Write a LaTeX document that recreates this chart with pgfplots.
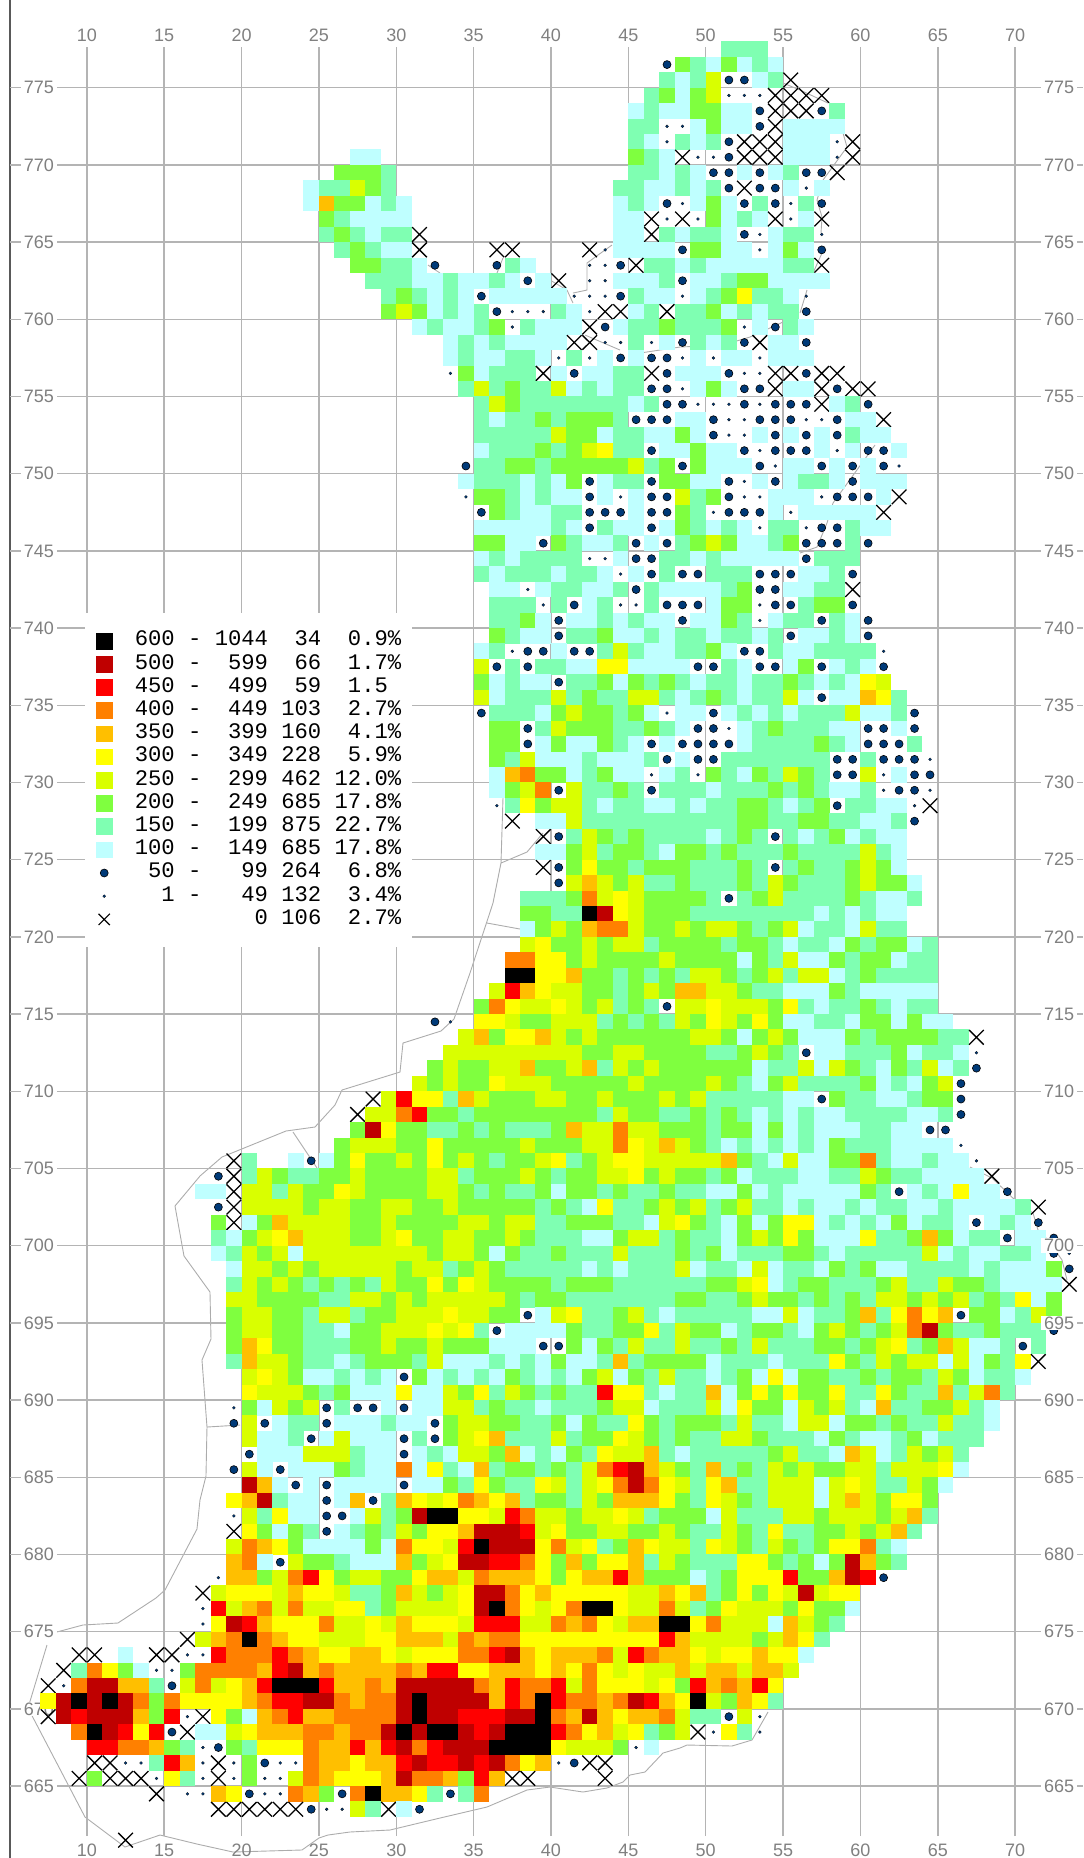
\documentclass[border=0pt]{standalone}
\usepackage{pgfplots}
\usepackage{fontspec}
\setmainfont{Liberation Sans}
\setmonofont{Liberation Mono}
\pgfplotsset{compat=1.18}
\definecolor{c1}{HTML}{BFFFFF}\definecolor{c2}{HTML}{7FFFB2}\definecolor{c3}{HTML}{7FFF3F}
\definecolor{c4}{HTML}{D9FF00}\definecolor{c5}{HTML}{FFFF00}\definecolor{c6}{HTML}{FFBF00}
\definecolor{c7}{HTML}{FF8000}\definecolor{c8}{HTML}{FF0000}\definecolor{c9}{HTML}{BF0000}
\definecolor{c10}{HTML}{000000}\definecolor{dotc}{HTML}{003A78}\definecolor{gridc}{HTML}{B4B4B4}
\pgfdeclareplotmark{cell}{\pgfpathrectangle{\pgfpoint{-0.04pt}{-0.04pt}}{\pgfpoint{\runlen*7.735pt+0.08pt}{7.8pt}}\pgfusepathqfill}
\pgfdeclareplotmark{bigdot}{\pgfsetfillcolor{dotc}\pgfsetstrokecolor{black}\pgfsetlinewidth{0.3pt}\pgfpathcircle{\pgfpoint{3.867pt}{3.86pt}}{2pt}\pgfusepathqfillstroke}
\pgfdeclareplotmark{smalldot}{\pgfsetfillcolor{dotc}\pgfsetstrokecolor{black}\pgfsetlinewidth{0.1pt}\pgfpathcircle{\pgfpoint{3.867pt}{3.86pt}}{0.75pt}\pgfusepathqfillstroke}
\pgfdeclareplotmark{nilx}{\pgfsetstrokecolor{black}\pgfsetlinewidth{0.65pt}\pgfpathmoveto{\pgfpoint{0.2pt}{0.2pt}}\pgfpathlineto{\pgfpoint{7.53pt}{7.52pt}}\pgfpathmoveto{\pgfpoint{0.2pt}{7.52pt}}\pgfpathlineto{\pgfpoint{7.53pt}{0.2pt}}\pgfusepathqstroke}
\pgfplotsset{base/.style={scale only axis, width=536.5pt, height=894.5pt,
 xmin=5.03, xmax=74.39, ymin=661.77, ymax=777.64, clip=false,
 xtick={10,15,...,70}, ytick={665,670,...,775},
 axis line style={draw=none}, tick style={draw=none}, major tick length=0pt,
 /pgf/number format/assume math mode=true,
 tick label style={font=\fontsize{9}{10}\selectfont, text=gray}}}
\begin{document}
\begin{tikzpicture}
\useasboundingbox (-5pt,-11pt) rectangle (536.5pt,918pt);
\draw[color=black!65, line width=0.7pt] (0pt,-11pt)--(0pt,918pt);
\begin{axis}[base, axis on top, xticklabel pos=upper, yticklabel pos=left,
 grid=major, grid style={draw=gridc, line width=0.75pt},
 xticklabel style={anchor=center, yshift=6pt},
 yticklabel style={anchor=center, xshift=14.5pt, fill=white, inner xsep=1.5pt, inner ysep=0.5pt},
 legend cell align=left,
 legend image code/.code={\draw[#1] plot coordinates {(0.17cm,0cm)};},
 legend style={at={(axis cs:9.88,740.98)}, anchor=north west, draw=none, fill=white,
  font=\fontsize{11.1}{11.6}\selectfont\ttfamily, inner xsep=5.4pt, inner ysep=8pt, row sep=0pt,
  /tikz/column 1/.style={column sep=11.3pt},
  nodes={inner sep=0pt, text height=8.2pt, text depth=3.4pt}}]
\addplot[forget plot, color=gray!65, line width=0.45pt, no markers, unbounded coords=jump]
 table[x expr=10+(\thisrow{a}-86.9)/15.47, y expr=775-(\thisrow{b}-87.7)/15.44]{
a b
503 798
501 863
493 903
470 973
454 1019
441 1031
403 1043
400 1072
342 1090
335 1105
315 1127
286 1131
222 1157
200 1176
175 1206
184 1256
210 1292
211 1339
202 1360
207 1427
206 1476
200 1500
197 1529
165 1590
156 1598
118 1623
83 1625
53 1633
nan nan
47 1645
28 1708
85 1817
125 1847
160 1835
197 1844
233 1852
302 1850
319 1838
328 1835
350 1832
390 1830
440 1818
487 1807
527 1790
550 1787
583 1792
607 1788
623 1782
630 1775
645 1772
663 1753
680 1748
687 1745
732 1746
752 1740
768 1712
nan nan
501 863
527 852
543 833
nan nan
487 923
520 929
nan nan
293 1132
317 1168
nan nan
207 1427
240 1425
nan nan
970 1167
992 1178
1015 1200
1033 1213
1038 1230
1048 1240
1062 1260
1067 1280
nan nan
875 445
833 503
827 523
817 547
800 553
nan nan
843 133
847 147
823 180
817 200
822 217
821 233
nan nan
822 253
813 273
nan nan
807 290
800 313
nan nan
783 322
750 337
723 345
680 347
640 353
nan nan
550 280
567 290
573 303
nan nan
573 293
587 290
587 263
598 255
612 245
nan nan
585 335
620 350
nan nan
428 265
440 273
nan nan
503 258
497 273
nan nan
783 83
800 90
828 103
};
\addplot[forget plot, scatter, only marks, point meta=explicit symbolic,
 visualization depends on={value \thisrow{n} \as \runlen},
 scatter/classes={1={mark=cell,color=c1},2={mark=cell,color=c2},3={mark=cell,color=c3},4={mark=cell,color=c4},5={mark=cell,color=c5},6={mark=cell,color=c6},7={mark=cell,color=c7},8={mark=cell,color=c8},9={mark=cell,color=c9},10={mark=cell,color=c10},11={mark=bigdot},12={mark=smalldot},13={mark=nilx}}]
 table[x=x,y=y,meta=c]{
y x n c
777 51 3 2
776 47 1 11
776 48 1 3
776 49 1 2
776 50 1 1
776 51 1 3
776 52 1 1
776 53 1 2
776 54 1 1
775 47 1 2
775 48 1 1
775 49 1 2
775 50 1 4
775 51 1 11
775 52 1 11
775 53 1 1
775 54 1 2
775 55 1 13
774 46 1 2
774 47 1 3
774 48 1 1
774 49 1 3
774 50 1 4
774 51 1 12
774 52 1 12
774 53 1 12
774 54 1 13
774 55 1 13
774 56 1 13
774 57 1 13
773 45 1 1
773 46 1 2
773 47 2 1
773 49 2 3
773 51 2 1
773 53 1 11
773 54 1 13
773 55 1 13
773 56 1 13
773 57 1 11
773 58 1 2
772 45 2 2
772 47 1 12
772 48 1 12
772 49 1 1
772 50 1 3
772 51 2 1
772 53 1 11
772 54 1 13
772 55 4 1
771 45 1 2
771 46 1 1
771 47 1 12
771 48 1 2
771 49 1 1
771 50 1 2
771 51 1 11
771 52 1 13
771 53 1 13
771 54 1 13
771 55 3 1
771 58 1 12
771 59 1 13
770 27 2 1
770 45 1 3
770 46 1 2
770 47 1 1
770 48 1 13
770 49 1 12
770 50 1 12
770 51 1 11
770 52 1 13
770 53 1 13
770 54 1 13
770 55 3 1
770 58 1 12
770 59 1 13
769 26 3 3
769 29 1 2
769 45 2 2
769 47 1 1
769 48 1 2
769 49 1 1
769 50 1 11
769 51 1 11
769 52 1 1
769 53 1 11
769 54 1 1
769 55 1 2
769 56 1 11
769 57 1 11
769 58 1 13
768 24 1 1
768 25 2 2
768 27 1 4
768 28 1 3
768 29 1 2
768 44 2 2
768 46 2 1
768 48 1 2
768 49 1 1
768 50 1 2
768 51 1 11
768 52 1 13
768 53 1 11
768 54 1 11
768 55 1 1
768 56 1 12
768 57 1 1
767 24 1 1
767 25 1 6
767 26 2 3
767 28 1 1
767 29 1 2
767 30 1 1
767 44 1 1
767 45 1 2
767 46 1 1
767 47 1 11
767 48 1 12
767 49 1 1
767 50 1 3
767 51 1 1
767 52 1 11
767 53 1 2
767 54 1 11
767 55 1 12
767 56 1 2
767 57 1 11
766 25 1 3
766 26 1 2
766 27 4 1
766 44 2 1
766 46 1 13
766 47 1 12
766 48 1 13
766 49 1 12
766 50 1 3
766 51 1 1
766 52 1 2
766 53 1 1
766 54 1 13
766 55 1 12
766 56 1 1
766 57 1 13
765 25 1 2
765 26 1 3
765 27 1 2
765 28 1 1
765 29 2 2
765 31 1 13
765 44 2 1
765 46 1 13
765 47 1 2
765 48 1 1
765 49 2 2
765 51 1 1
765 52 1 11
765 53 1 12
765 54 1 1
765 55 2 2
765 57 1 12
764 26 1 2
764 27 1 3
764 28 1 2
764 29 2 1
764 31 1 13
764 36 1 13
764 37 1 13
764 42 1 13
764 43 1 12
764 44 4 1
764 48 1 11
764 49 2 3
764 51 2 1
764 53 1 12
764 54 1 1
764 55 1 3
764 56 1 1
764 57 1 11
763 27 2 3
763 29 2 2
763 31 1 1
763 32 1 11
763 36 1 11
763 37 1 2
763 38 1 1
763 42 1 12
763 43 1 12
763 44 1 11
763 45 1 13
763 46 2 2
763 48 1 1
763 49 1 2
763 50 5 1
763 55 2 2
763 57 1 13
762 28 3 2
762 31 2 1
762 33 1 2
762 34 2 1
762 36 1 2
762 37 1 1
762 38 1 11
762 39 1 1
762 40 1 13
762 42 1 12
762 43 1 12
762 44 3 1
762 47 1 2
762 48 1 11
762 49 2 1
762 51 1 2
762 52 2 3
762 54 4 1
761 29 1 2
761 30 1 3
761 31 1 2
761 32 1 1
761 33 1 2
761 34 1 1
761 35 1 11
761 36 5 1
761 41 1 12
761 42 1 12
761 43 1 12
761 44 1 11
761 45 1 2
761 46 2 1
761 48 1 12
761 49 1 1
761 50 1 2
761 51 1 3
761 52 1 5
761 53 2 2
761 55 1 1
761 56 1 12
760 29 1 3
760 30 1 4
760 31 1 3
760 32 1 1
760 33 1 2
760 34 1 1
760 35 1 2
760 36 1 11
760 37 1 12
760 38 1 12
760 39 1 12
760 40 1 2
760 41 1 1
760 42 1 12
760 43 1 13
760 44 1 13
760 45 1 1
760 46 1 2
760 47 1 13
760 48 2 2
760 50 1 3
760 51 1 1
760 52 1 2
760 53 1 1
760 54 2 2
760 56 1 11
759 31 1 1
759 32 1 2
759 33 2 1
759 35 1 2
759 36 1 3
759 37 1 12
759 38 1 2
759 39 3 1
759 42 1 13
759 43 1 11
759 44 1 1
759 45 2 2
759 47 1 3
759 48 3 2
759 51 1 3
759 52 1 12
759 53 1 1
759 54 1 11
759 55 1 2
759 56 1 1
758 33 1 1
758 34 1 2
758 35 1 1
758 36 1 2
758 37 4 1
758 41 1 13
758 42 1 13
758 43 1 12
758 44 1 12
758 45 1 2
758 46 1 12
758 47 1 1
758 48 1 11
758 49 1 2
758 50 1 1
758 51 1 2
758 52 1 11
758 53 1 13
758 54 2 1
758 56 1 11
757 33 1 1
757 34 1 2
757 35 2 1
757 37 2 2
757 39 1 1
757 40 1 12
757 41 1 2
757 42 1 12
757 43 1 1
757 44 1 11
757 45 1 1
757 46 1 11
757 47 1 11
757 48 1 12
757 49 1 1
757 50 1 12
757 51 2 1
757 53 1 12
757 54 3 1
756 33 1 12
756 34 1 3
756 35 1 1
756 36 3 2
756 39 1 13
756 40 1 1
756 41 1 11
756 42 2 1
756 44 2 2
756 46 1 13
756 47 1 11
756 48 3 1
756 51 1 11
756 52 1 12
756 53 1 12
756 54 1 13
756 55 1 13
756 56 1 11
756 57 1 13
756 58 1 13
755 34 1 2
755 35 1 4
755 36 1 2
755 37 1 3
755 38 2 2
755 40 1 4
755 41 1 1
755 42 1 2
755 43 1 1
755 44 2 2
755 46 1 11
755 47 1 11
755 48 1 12
755 49 1 1
755 50 1 3
755 51 1 1
755 52 1 11
755 53 1 11
755 54 1 13
755 55 2 1
755 57 1 13
755 58 1 11
755 59 1 13
755 60 1 13
754 35 1 2
754 36 1 4
754 37 1 3
754 38 7 2
754 45 1 1
754 46 1 2
754 47 1 11
754 48 1 11
754 49 1 12
754 50 1 12
754 51 1 12
754 52 1 11
754 53 1 12
754 54 1 11
754 55 1 11
754 56 1 11
754 57 1 13
754 58 1 1
754 59 1 2
754 60 1 11
753 35 1 2
753 36 1 1
753 37 2 2
753 39 1 3
753 40 1 2
753 41 3 3
753 44 1 2
753 45 1 11
753 46 1 11
753 47 1 11
753 48 2 1
753 50 1 11
753 51 1 12
753 52 1 12
753 53 1 11
753 54 1 11
753 55 1 11
753 56 1 12
753 57 1 12
753 58 1 11
753 59 2 1
753 61 1 13
752 35 5 2
752 40 1 4
752 41 2 3
752 43 1 1
752 44 2 2
752 46 2 1
752 48 1 3
752 49 1 1
752 50 1 11
752 51 1 12
752 52 1 12
752 53 1 1
752 54 1 11
752 55 1 1
752 56 1 11
752 57 1 1
752 58 1 11
752 59 1 2
752 60 2 1
751 35 1 1
751 36 3 2
751 39 1 3
751 40 1 2
751 41 1 3
751 42 1 4
751 43 1 5
751 44 2 2
751 46 1 11
751 47 2 1
751 49 1 3
751 50 2 1
751 52 1 11
751 53 1 12
751 54 1 11
751 55 1 11
751 56 1 11
751 57 1 1
751 58 1 12
751 59 1 1
751 60 1 11
751 61 1 11
751 62 1 1
750 34 1 11
750 35 2 2
750 37 2 3
750 39 1 2
750 40 5 3
750 45 1 4
750 46 1 2
750 47 1 3
750 48 1 11
750 49 1 3
750 50 3 1
750 53 1 11
750 54 1 12
750 55 2 1
750 57 1 11
750 58 1 1
750 59 1 11
750 60 1 1
750 61 1 11
750 62 1 12
749 34 1 1
749 35 3 2
749 38 1 1
749 39 1 2
749 40 1 1
749 41 1 3
749 42 1 11
749 43 1 1
749 44 2 2
749 46 1 11
749 47 2 3
749 49 2 1
749 51 1 11
749 52 1 12
749 53 1 1
749 54 1 11
749 55 1 1
749 56 2 2
749 58 1 1
749 59 1 11
749 60 3 1
748 34 1 12
748 35 2 3
748 37 1 2
748 38 1 1
748 39 1 2
748 40 2 1
748 42 1 11
748 43 1 1
748 44 1 12
748 45 1 1
748 46 1 11
748 47 1 11
748 48 1 4
748 49 1 2
748 50 1 3
748 51 1 11
748 52 1 12
748 53 1 12
748 54 3 1
748 57 1 12
748 58 1 11
748 59 1 11
748 60 1 11
748 61 1 1
748 62 1 13
747 35 1 11
747 36 1 3
747 37 1 2
747 38 2 1
747 40 2 2
747 42 1 11
747 43 1 11
747 44 1 11
747 45 1 1
747 46 1 11
747 47 1 11
747 48 1 3
747 49 1 2
747 50 1 12
747 51 1 11
747 52 1 11
747 53 1 11
747 54 1 1
747 55 1 12
747 56 5 1
747 61 1 13
746 35 5 1
746 40 1 2
746 41 1 1
746 42 1 11
746 43 1 2
746 44 2 1
746 46 1 11
746 47 1 1
746 48 1 3
746 49 1 2
746 50 1 1
746 51 1 2
746 52 1 1
746 53 1 12
746 54 2 2
746 56 1 12
746 57 1 11
746 58 1 11
746 59 1 2
746 60 2 1
745 35 2 3
745 37 2 1
745 39 1 11
745 40 1 3
745 41 1 2
745 42 2 1
745 44 1 2
745 45 1 11
745 46 1 1
745 47 1 11
745 48 1 2
745 49 1 3
745 50 1 4
745 51 1 3
745 52 2 1
745 54 1 2
745 55 1 3
745 56 1 11
745 57 1 11
745 58 1 11
745 59 1 2
745 60 1 11
744 35 1 1
744 36 1 2
744 37 1 1
744 38 4 2
744 42 1 12
744 43 1 12
744 44 1 1
744 45 1 11
744 46 1 11
744 47 2 2
744 49 1 1
744 50 1 2
744 51 5 1
744 56 1 11
744 57 3 2
743 35 1 2
743 36 1 1
743 37 3 2
743 40 1 1
743 41 2 2
743 43 1 1
743 44 1 12
743 45 1 1
743 46 1 11
743 47 1 2
743 48 1 11
743 49 1 11
743 50 3 2
743 53 1 11
743 54 1 11
743 55 1 11
743 56 2 1
743 58 1 2
743 59 1 11
742 36 2 1
742 38 1 12
742 39 1 1
742 40 2 2
742 42 2 1
742 44 1 2
742 45 1 11
742 46 1 2
742 47 4 1
742 51 1 2
742 52 1 3
742 53 1 11
742 54 1 11
742 55 2 1
742 57 2 2
742 59 1 13
741 36 3 2
741 39 1 12
741 40 1 2
741 41 1 11
741 42 1 1
741 43 1 2
741 44 1 12
741 45 1 12
741 46 1 2
741 47 1 11
741 48 1 11
741 49 1 11
741 50 1 1
741 51 2 3
741 53 1 12
741 54 1 11
741 55 1 11
741 56 1 2
741 57 2 3
741 59 1 11
740 36 2 2
740 38 1 3
740 39 1 1
740 40 1 11
740 41 2 1
740 43 1 2
740 44 1 1
740 45 1 2
740 46 2 1
740 48 1 11
740 49 2 1
740 51 1 3
740 52 1 2
740 53 1 12
740 54 1 1
740 55 2 2
740 57 1 11
740 58 1 2
740 59 1 1
740 60 1 11
739 36 1 3
739 37 1 2
739 38 2 1
739 40 1 11
739 41 2 2
739 43 1 3
739 44 2 1
739 46 1 2
739 47 1 1
739 48 2 2
739 50 1 1
739 51 2 2
739 53 1 1
739 54 1 2
739 55 1 11
739 56 2 1
739 58 1 2
739 59 1 1
739 60 1 11
738 35 1 1
738 36 1 2
738 37 1 12
738 38 1 11
738 39 1 11
738 40 1 1
738 41 1 11
738 42 1 11
738 43 1 2
738 44 1 4
738 45 1 2
738 46 2 1
738 48 2 2
738 50 1 3
738 51 1 1
738 52 1 11
738 53 1 11
738 54 1 2
738 55 2 1
738 57 4 2
738 61 1 12
737 35 1 4
737 36 1 11
737 37 1 2
737 38 1 11
737 39 2 2
737 41 2 1
737 43 2 5
737 45 4 1
737 49 1 11
737 50 1 11
737 51 1 2
737 52 1 1
737 53 1 11
737 54 1 11
737 55 1 1
737 56 1 3
737 57 1 11
737 58 1 1
737 59 1 2
737 60 1 1
737 61 1 11
736 35 1 3
736 36 1 1
736 37 1 2
736 38 2 1
736 40 1 11
736 41 2 2
736 43 1 3
736 44 1 1
736 45 1 3
736 46 1 2
736 47 1 3
736 48 1 2
736 49 1 1
736 50 2 2
736 52 1 1
736 53 2 2
736 55 1 3
736 56 1 2
736 57 1 1
736 58 1 2
736 59 1 1
736 60 1 5
736 61 1 4
735 35 1 4
735 36 1 1
735 37 3 2
735 40 1 4
735 41 1 2
735 42 1 3
735 43 2 2
735 45 2 4
735 47 1 2
735 48 1 1
735 49 1 2
735 50 1 3
735 51 1 2
735 52 1 1
735 53 2 2
735 55 1 4
735 56 1 1
735 57 1 11
735 58 2 1
735 60 1 6
735 61 1 5
735 62 1 2
734 35 1 11
734 36 3 2
734 39 1 1
734 40 1 3
734 41 1 4
734 42 2 3
734 44 1 2
734 45 1 3
734 46 1 1
734 47 1 12
734 48 2 1
734 50 1 11
734 51 1 1
734 52 1 2
734 53 1 1
734 54 1 2
734 55 1 1
734 56 3 2
734 59 1 4
734 60 2 1
734 62 1 2
734 63 1 11
733 36 2 3
733 38 1 11
733 39 1 2
733 40 1 4
733 41 3 3
733 44 2 2
733 46 1 3
733 47 1 2
733 48 1 1
733 49 1 11
733 50 1 11
733 51 1 12
733 52 1 1
733 53 1 2
733 54 1 3
733 55 3 2
733 58 2 1
733 60 1 11
733 61 1 11
733 62 1 1
733 63 1 11
732 36 2 3
732 38 1 11
732 39 1 1
732 40 1 3
732 41 2 1
732 43 1 3
732 44 1 2
732 45 1 1
732 46 1 11
732 47 1 1
732 48 1 11
732 49 1 11
732 50 1 11
732 51 1 11
732 52 1 1
732 53 4 2
732 57 1 3
732 58 1 2
732 59 1 1
732 60 1 11
732 61 1 11
732 62 1 11
732 63 1 2
731 36 1 3
731 37 1 2
731 38 1 4
731 39 3 1
731 42 1 2
731 43 3 1
731 46 1 2
731 47 1 11
731 48 1 1
731 49 1 11
731 50 1 11
731 51 7 2
731 58 1 11
731 59 1 11
731 60 1 2
731 61 1 11
731 62 1 11
731 63 1 11
731 64 1 12
730 36 1 1
730 37 1 6
730 38 1 7
730 39 2 3
730 41 1 1
730 42 1 2
730 43 1 3
730 44 2 1
730 46 1 12
730 47 1 1
730 48 1 2
730 49 1 12
730 50 1 3
730 51 1 2
730 52 1 1
730 53 1 3
730 54 1 2
730 55 1 4
730 56 1 3
730 57 1 2
730 58 1 11
730 59 1 11
730 60 1 4
730 61 1 12
730 62 1 1
730 63 1 11
730 64 1 11
729 36 1 1
729 37 1 3
729 38 1 4
729 39 1 7
729 40 1 11
729 41 1 4
729 42 2 2
729 44 1 3
729 45 1 2
729 46 1 11
729 47 3 2
729 50 1 1
729 51 3 2
729 54 1 3
729 55 1 2
729 56 1 3
729 57 1 2
729 58 2 1
729 60 1 2
729 61 1 12
729 62 1 11
729 63 1 11
729 64 1 12
728 36 1 12
728 37 1 2
728 38 1 5
728 39 1 3
728 40 2 4
728 42 1 2
728 43 1 1
728 44 2 2
728 46 2 1
728 48 1 2
728 49 1 1
728 50 2 2
728 52 2 3
728 54 1 2
728 55 1 1
728 56 1 2
728 57 1 3
728 58 1 11
728 59 2 2
728 61 2 1
728 63 1 12
728 64 1 13
727 37 1 13
727 39 2 1
727 41 1 4
727 42 10 2
727 52 2 3
727 54 2 2
727 56 2 3
727 58 2 2
727 60 2 1
727 62 1 2
727 63 1 11
726 39 1 13
726 40 1 11
726 41 1 2
726 42 1 4
726 43 1 3
726 44 1 2
726 45 1 3
726 46 4 2
726 50 1 1
726 51 1 2
726 52 1 3
726 53 1 2
726 54 1 11
726 55 1 2
726 56 1 1
726 57 1 2
726 58 1 3
726 59 1 1
726 60 1 2
726 61 2 1
725 39 2 1
725 41 1 3
725 42 1 4
725 43 1 2
725 44 2 3
725 46 1 2
725 47 1 1
725 48 2 3
725 50 1 2
725 51 1 3
725 52 3 2
725 55 1 3
725 56 4 2
725 60 1 4
725 61 1 2
725 62 1 1
724 39 1 13
724 40 1 11
724 41 1 3
724 42 1 5
724 43 2 3
724 45 1 2
724 46 3 3
724 49 3 2
724 52 1 3
724 53 1 2
724 54 1 11
724 55 1 2
724 56 1 3
724 57 2 2
724 59 1 3
724 60 1 4
724 61 1 3
724 62 1 1
723 40 1 11
723 41 1 4
723 42 1 6
723 43 1 4
723 44 1 3
723 45 1 4
723 46 2 2
723 48 1 3
723 49 3 2
723 52 1 3
723 53 1 2
723 54 1 4
723 55 1 3
723 56 3 2
723 59 1 3
723 60 1 4
723 61 2 3
723 63 1 1
722 38 3 2
722 41 1 3
722 42 1 7
722 43 1 4
722 44 1 5
722 45 1 4
722 46 4 3
722 50 1 2
722 51 1 11
722 52 1 2
722 53 1 3
722 54 1 4
722 55 4 2
722 59 1 3
722 60 1 2
722 61 2 1
722 63 1 2
721 38 2 3
721 40 2 2
721 42 1 10
721 43 1 9
721 44 1 5
721 45 1 4
721 46 3 3
721 49 8 2
721 57 1 1
721 58 1 2
721 59 1 1
721 60 1 2
721 61 2 1
720 38 1 1
720 39 1 3
720 40 1 4
720 41 1 3
720 42 1 6
720 43 2 7
720 45 1 4
720 46 2 3
720 48 1 4
720 49 1 3
720 50 2 4
720 52 1 3
720 53 1 2
720 54 1 3
720 55 1 4
720 56 1 1
720 57 2 2
720 59 1 1
720 60 1 4
720 61 2 2
719 38 1 4
719 39 1 5
719 40 2 3
719 42 1 4
719 43 1 3
719 44 2 4
719 46 1 2
719 47 4 3
719 51 1 2
719 52 2 3
719 54 1 2
719 55 1 1
719 56 2 2
719 58 1 1
719 59 1 3
719 60 1 2
719 61 2 3
719 63 1 1
719 64 1 2
718 37 2 7
718 39 2 5
718 41 1 3
718 42 1 4
718 43 4 3
718 47 1 4
718 48 4 3
718 52 1 1
718 53 1 3
718 54 1 2
718 55 1 4
718 56 2 1
718 58 1 3
718 59 1 2
718 60 2 3
718 62 1 1
718 63 2 2
717 37 2 10
717 39 2 5
717 41 1 6
717 42 2 3
717 44 1 2
717 45 1 3
717 46 1 2
717 47 1 3
717 48 1 2
717 49 2 4
717 51 1 3
717 52 1 2
717 53 1 3
717 54 1 4
717 55 1 2
717 56 2 4
717 58 1 1
717 59 1 2
717 60 1 3
717 61 4 2
716 36 1 4
716 37 1 8
716 38 1 6
716 39 1 5
716 40 2 4
716 42 2 3
716 44 1 2
716 45 1 3
716 46 1 4
716 47 1 3
716 48 2 6
716 50 2 4
716 52 1 3
716 53 2 2
716 55 3 1
716 58 1 3
716 59 1 2
716 60 5 1
715 35 1 3
715 36 1 7
715 37 1 5
715 38 2 4
715 40 1 5
715 41 1 4
715 42 1 3
715 43 1 4
715 44 1 2
715 45 1 3
715 46 1 2
715 47 1 11
715 48 2 4
715 50 1 5
715 51 3 4
715 54 1 3
715 55 1 5
715 56 1 2
715 57 1 1
715 58 2 2
715 60 1 3
715 61 1 2
715 62 1 1
715 63 2 2
714 32 1 11
714 33 1 12
714 35 2 5
714 37 1 4
714 38 2 3
714 40 3 4
714 43 1 2
714 44 1 3
714 45 1 2
714 46 1 3
714 47 1 2
714 48 1 4
714 49 1 3
714 50 1 5
714 51 1 4
714 52 1 3
714 53 1 5
714 54 1 3
714 55 2 1
714 57 2 2
714 59 1 1
714 60 2 3
714 62 1 1
714 63 1 3
714 64 2 1
713 34 1 4
713 35 1 6
713 36 1 3
713 37 2 5
713 39 1 6
713 40 1 4
713 41 1 3
713 42 1 4
713 43 6 3
713 49 2 4
713 51 1 3
713 52 1 1
713 53 1 3
713 54 1 4
713 55 1 3
713 56 3 1
713 59 1 3
713 60 1 2
713 61 4 3
713 65 2 2
713 67 1 13
712 33 9 4
712 42 2 3
712 44 2 4
712 46 4 3
712 50 2 2
712 52 1 3
712 53 1 4
712 54 1 3
712 55 1 2
712 56 1 11
712 57 2 1
712 59 3 2
712 62 1 3
712 63 1 1
712 64 2 2
712 66 1 1
712 67 1 12
711 32 1 3
711 33 1 4
711 34 2 3
711 36 2 4
711 38 1 6
711 39 2 3
711 41 1 4
711 42 1 6
711 43 1 2
711 44 1 4
711 45 1 3
711 46 1 4
711 47 6 3
711 53 1 1
711 54 2 2
711 56 1 4
711 57 1 1
711 58 1 4
711 59 1 3
711 60 1 2
711 61 1 1
711 62 1 3
711 63 1 2
711 64 1 4
711 65 1 1
711 66 1 2
711 67 1 11
710 31 1 4
710 32 1 3
710 33 1 4
710 34 2 3
710 36 1 5
710 37 3 4
710 40 5 3
710 45 1 4
710 46 4 3
710 50 1 4
710 51 1 3
710 52 1 2
710 53 1 1
710 54 1 3
710 55 1 4
710 56 4 2
710 60 1 3
710 61 1 1
710 62 1 2
710 63 1 1
710 64 1 3
710 65 1 4
710 66 1 11
709 28 1 13
709 29 1 4
709 30 1 8
709 31 2 5
709 33 1 2
709 34 1 6
709 35 1 4
709 36 3 3
709 39 2 4
709 41 2 3
709 43 1 4
709 44 3 3
709 47 1 4
709 48 1 3
709 49 1 4
709 50 5 2
709 55 2 1
709 57 1 11
709 58 1 3
709 59 2 2
709 61 2 1
709 63 1 2
709 64 2 3
709 66 1 11
708 27 1 13
708 28 2 4
708 30 1 7
708 31 1 8
708 32 2 3
708 34 1 2
708 35 8 3
708 43 1 2
708 44 1 4
708 45 2 3
708 47 2 2
708 49 1 3
708 50 1 2
708 51 1 3
708 52 1 2
708 53 1 1
708 54 1 2
708 55 1 1
708 56 1 2
708 57 2 1
708 59 4 2
708 63 2 1
708 65 1 2
708 66 1 11
707 27 1 3
707 28 1 9
707 29 1 5
707 30 2 3
707 32 2 2
707 34 1 3
707 35 1 2
707 36 1 3
707 37 3 2
707 40 1 3
707 41 1 6
707 42 2 4
707 44 1 7
707 45 2 4
707 47 3 3
707 50 1 2
707 51 2 3
707 53 1 1
707 54 1 3
707 55 1 1
707 56 1 2
707 57 3 1
707 60 2 2
707 62 2 1
707 64 1 11
707 65 1 11
706 26 1 3
706 27 3 4
706 30 2 3
706 32 1 5
706 33 5 3
706 38 1 4
706 39 3 3
706 42 2 4
706 44 1 7
706 45 1 5
706 46 1 4
706 47 1 6
706 48 1 4
706 49 1 3
706 50 1 2
706 51 1 1
706 52 1 2
706 53 1 1
706 54 1 2
706 55 1 1
706 56 1 2
706 57 1 1
706 58 1 3
706 59 3 2
706 62 4 1
706 66 1 12
705 19 1 13
705 20 1 2
705 23 1 1
705 24 1 11
705 25 1 1
705 26 1 3
705 27 1 5
705 28 2 3
705 30 1 4
705 31 1 3
705 32 1 5
705 33 1 3
705 34 1 4
705 35 1 3
705 36 1 2
705 37 2 3
705 39 1 4
705 40 1 5
705 41 1 2
705 42 1 3
705 43 1 4
705 44 2 5
705 46 5 4
705 51 1 6
705 52 1 3
705 53 1 2
705 54 1 1
705 55 1 4
705 56 2 1
705 58 2 3
705 60 1 7
705 61 1 2
705 62 2 1
705 64 1 2
705 65 2 1
705 67 1 12
704 18 1 11
704 19 1 13
704 20 1 2
704 21 1 4
704 22 1 3
704 23 2 2
704 25 2 3
704 27 1 4
704 28 4 3
704 32 2 4
704 34 1 2
704 35 3 3
704 38 1 4
704 39 1 3
704 40 1 2
704 41 2 3
704 43 2 4
704 45 1 5
704 46 1 3
704 47 1 4
704 48 2 3
704 50 1 2
704 51 1 3
704 52 1 1
704 53 3 2
704 56 2 1
704 58 2 2
704 60 1 4
704 61 1 3
704 62 2 2
704 64 4 1
704 68 1 13
703 17 2 1
703 19 1 13
703 20 2 4
703 22 1 2
703 23 1 4
703 24 2 3
703 26 1 5
703 27 1 4
703 28 4 3
703 32 2 4
703 34 1 3
703 35 1 2
703 36 1 3
703 37 2 2
703 39 1 3
703 40 1 1
703 41 2 3
703 43 1 2
703 44 1 3
703 45 2 2
703 47 1 3
703 48 2 2
703 50 2 1
703 52 1 3
703 53 1 1
703 54 1 2
703 55 5 1
703 60 1 3
703 61 1 2
703 62 1 11
703 63 1 1
703 64 1 2
703 65 1 1
703 66 1 5
703 67 2 1
703 69 1 11
702 18 1 11
702 19 1 13
702 20 4 4
702 24 1 3
702 25 2 4
702 27 2 3
702 29 2 4
702 31 2 3
702 33 1 4
702 34 5 3
702 39 1 2
702 40 1 3
702 41 1 2
702 42 1 1
702 43 1 5
702 44 2 2
702 46 1 3
702 47 1 4
702 48 1 3
702 49 1 4
702 50 1 2
702 51 1 3
702 52 1 4
702 53 2 2
702 55 1 1
702 56 1 2
702 57 2 1
702 59 1 2
702 60 1 1
702 61 2 2
702 63 2 1
702 65 1 2
702 66 4 1
702 70 1 2
702 71 1 13
701 18 1 3
701 19 1 13
701 20 1 1
701 21 1 3
701 22 1 6
701 23 4 4
701 27 2 3
701 29 1 4
701 30 4 3
701 34 2 4
701 36 1 3
701 37 2 4
701 39 2 2
701 41 3 3
701 44 2 2
701 46 1 1
701 47 1 4
701 48 1 5
701 49 1 3
701 50 1 2
701 51 1 1
701 52 1 3
701 53 1 1
701 54 1 3
701 55 2 5
701 57 1 1
701 58 1 2
701 59 1 1
701 60 1 2
701 61 1 1
701 62 1 3
701 63 1 1
701 64 2 2
701 66 1 1
701 67 1 11
701 68 1 1
701 69 1 2
701 70 1 1
701 71 1 11
700 18 1 2
700 19 1 1
700 20 1 3
700 21 1 4
700 22 1 5
700 23 1 6
700 24 3 4
700 27 2 3
700 29 1 4
700 30 1 5
700 31 2 3
700 33 2 4
700 35 2 3
700 37 1 4
700 38 1 3
700 39 3 2
700 42 2 1
700 44 1 3
700 45 2 4
700 47 1 2
700 48 1 3
700 49 2 2
700 51 1 1
700 52 1 3
700 53 1 4
700 54 1 3
700 55 1 5
700 56 1 3
700 57 3 1
700 60 1 5
700 61 2 2
700 63 1 3
700 64 1 6
700 65 1 3
700 66 1 1
700 67 2 2
700 69 1 11
700 70 2 1
700 72 1 11
699 18 1 1
699 19 1 2
699 20 1 4
699 21 1 3
699 22 1 4
699 23 1 1
699 24 8 4
699 32 1 3
699 33 2 4
699 35 1 3
699 36 1 1
699 37 1 3
699 38 2 2
699 40 1 3
699 41 3 2
699 44 1 4
699 45 3 2
699 48 1 3
699 49 1 2
699 50 1 3
699 51 1 1
699 52 3 2
699 55 2 3
699 57 1 2
699 58 1 1
699 59 5 2
699 64 1 4
699 65 1 1
699 66 1 2
699 67 2 1
699 69 2 2
699 71 1 1
699 72 1 11
699 73 1 12
698 19 1 1
698 20 2 4
698 22 1 3
698 23 1 4
698 24 1 3
698 25 5 4
698 30 1 3
698 31 2 4
698 33 1 2
698 34 1 3
698 35 1 4
698 36 1 3
698 37 5 2
698 42 1 1
698 43 1 2
698 44 1 1
698 45 3 2
698 48 1 4
698 49 1 1
698 50 2 2
698 52 1 1
698 53 1 4
698 54 1 1
698 55 2 2
698 57 1 1
698 58 1 3
698 59 1 2
698 60 1 3
698 61 2 1
698 63 4 2
698 67 1 1
698 68 1 2
698 69 3 1
698 72 1 3
698 73 1 11
697 19 1 2
697 20 1 4
697 21 1 3
697 22 1 4
697 23 1 3
697 24 1 2
697 25 1 3
697 26 1 2
697 27 1 3
697 28 1 2
697 29 1 4
697 30 2 3
697 32 1 5
697 33 1 3
697 34 1 5
697 35 1 4
697 36 4 3
697 40 1 2
697 41 3 3
697 44 6 2
697 50 2 3
697 52 1 4
697 53 1 5
697 54 1 1
697 55 1 2
697 56 2 3
697 58 3 2
697 61 1 3
697 62 1 4
697 63 2 2
697 65 1 4
697 66 2 3
697 68 1 2
697 69 4 1
697 73 1 13
696 19 2 4
696 21 4 3
696 25 2 2
696 27 2 4
696 29 1 3
696 30 1 4
696 31 1 3
696 32 5 4
696 37 1 3
696 38 1 2
696 39 2 3
696 41 7 2
696 48 2 3
696 50 2 2
696 52 1 3
696 53 1 4
696 54 2 3
696 56 1 2
696 57 1 3
696 58 1 2
696 59 1 3
696 60 1 2
696 61 2 4
696 63 1 3
696 64 1 4
696 65 1 3
696 66 1 4
696 67 1 2
696 68 1 3
696 69 1 2
696 70 1 5
696 71 1 1
696 72 1 3
695 19 1 3
695 20 2 4
695 22 2 3
695 24 1 2
695 25 2 4
695 27 1 2
695 28 2 3
695 30 3 4
695 33 1 5
695 34 2 4
695 36 2 3
695 38 1 11
695 39 1 1
695 40 1 4
695 41 1 5
695 42 2 2
695 44 1 3
695 45 1 4
695 46 1 2
695 47 1 1
695 48 5 2
695 53 2 1
695 55 1 4
695 56 1 1
695 57 2 2
695 59 1 3
695 60 1 6
695 61 1 2
695 62 1 5
695 63 1 7
695 64 1 5
695 65 1 6
695 66 1 11
695 67 2 3
695 69 1 1
695 70 1 2
695 71 1 4
695 72 1 3
694 19 1 3
694 20 2 4
694 22 2 3
694 24 2 2
694 26 1 1
694 27 2 3
694 29 3 4
694 32 1 5
694 33 1 4
694 34 1 5
694 35 1 2
694 36 1 11
694 37 4 1
694 41 1 3
694 42 2 2
694 44 2 3
694 46 1 5
694 47 1 2
694 48 1 4
694 49 2 3
694 51 1 1
694 52 1 2
694 53 2 3
694 55 1 2
694 56 1 1
694 57 1 3
694 58 1 4
694 59 1 3
694 60 1 2
694 61 1 3
694 62 1 4
694 63 1 7
694 64 1 9
694 65 1 3
694 66 2 2
694 68 1 3
694 69 3 2
694 72 1 11
693 19 1 3
693 20 1 6
693 21 1 5
693 22 2 3
693 24 3 2
693 27 2 3
693 29 1 4
693 30 2 3
693 32 1 4
693 33 3 3
693 36 3 1
693 39 1 11
693 40 1 11
693 41 1 3
693 42 1 1
693 43 1 3
693 44 1 2
693 45 1 4
693 46 2 2
693 48 1 4
693 49 2 2
693 51 1 3
693 52 1 2
693 53 1 4
693 54 3 2
693 57 2 3
693 59 1 2
693 60 1 3
693 61 1 4
693 62 1 5
693 63 1 2
693 64 1 3
693 65 1 6
693 66 1 4
693 67 2 1
693 69 1 2
693 70 1 11
693 71 1 2
692 19 1 2
692 20 1 6
692 21 2 4
692 23 1 3
692 24 2 2
692 26 1 1
692 27 1 2
692 28 3 3
692 31 1 2
692 32 1 4
692 33 3 1
692 36 1 2
692 37 1 1
692 38 1 2
692 39 1 1
692 40 1 3
692 41 2 1
692 43 1 2
692 44 1 6
692 45 1 2
692 46 4 3
692 50 1 1
692 51 3 2
692 54 1 1
692 55 3 2
692 58 1 5
692 59 1 3
692 60 1 2
692 61 1 4
692 62 1 3
692 63 2 4
692 65 1 1
692 66 1 4
692 67 1 1
692 68 1 3
692 69 1 2
692 70 1 5
692 71 1 13
691 20 1 4
691 21 1 5
691 22 1 4
691 23 1 3
691 24 2 1
691 26 1 2
691 27 1 1
691 28 1 2
691 29 1 1
691 30 1 11
691 31 1 3
691 32 1 1
691 33 1 2
691 34 1 1
691 35 1 2
691 36 1 1
691 37 1 3
691 38 1 2
691 39 1 1
691 40 1 2
691 41 1 1
691 42 1 3
691 43 1 4
691 44 1 1
691 45 1 3
691 46 1 2
691 47 1 4
691 48 2 2
691 50 1 1
691 51 1 2
691 52 1 3
691 53 1 1
691 54 1 5
691 55 1 1
691 56 2 3
691 58 2 2
691 60 1 3
691 61 1 2
691 62 2 3
691 64 1 2
691 65 1 4
691 66 1 3
691 67 1 1
691 68 2 2
691 70 1 1
690 20 1 5
690 21 3 4
690 24 1 3
690 25 1 2
690 26 1 3
690 27 3 1
690 30 1 5
690 31 2 1
690 33 1 4
690 34 1 3
690 35 1 5
690 36 1 2
690 37 1 4
690 38 1 3
690 39 1 2
690 40 1 3
690 41 2 2
690 43 1 8
690 44 2 5
690 46 1 2
690 47 1 1
690 48 2 2
690 50 1 6
690 51 1 1
690 52 1 3
690 53 1 5
690 54 1 3
690 55 1 5
690 56 2 3
690 58 1 5
690 59 2 2
690 61 1 5
690 62 1 3
690 63 2 2
690 65 1 6
690 66 1 2
690 67 1 4
690 68 1 7
690 69 1 2
689 19 1 12
689 20 1 3
689 21 1 1
689 22 1 4
689 23 1 3
689 24 1 4
689 25 1 11
689 26 1 2
689 27 1 11
689 28 1 11
689 29 1 1
689 30 1 11
689 31 2 1
689 33 2 4
689 35 1 2
689 36 1 3
689 37 2 2
689 39 1 1
689 40 3 2
689 43 1 3
689 44 2 4
689 46 1 1
689 47 3 2
689 50 1 4
689 51 1 1
689 52 1 5
689 53 2 3
689 55 1 1
689 56 1 4
689 57 1 3
689 58 1 4
689 59 1 2
689 60 1 1
689 61 1 6
689 62 2 2
689 64 2 3
689 66 1 4
689 67 1 2
689 68 1 1
688 19 1 11
688 20 1 4
688 21 1 11
688 22 1 1
688 23 2 2
688 25 1 11
688 26 3 1
688 29 1 2
688 30 2 1
688 32 1 11
688 33 1 3
688 34 2 4
688 36 2 3
688 38 2 2
688 40 1 3
688 41 1 1
688 42 1 3
688 43 2 2
688 45 1 5
688 46 1 3
688 47 1 2
688 48 2 3
688 50 1 3
688 51 1 2
688 52 1 4
688 53 2 2
688 55 1 1
688 56 2 4
688 58 1 1
688 59 2 3
688 61 1 2
688 62 1 3
688 63 2 2
688 65 1 4
688 66 2 2
688 68 1 1
687 20 1 4
687 21 2 1
687 23 1 2
687 24 1 11
687 25 1 1
687 26 1 4
687 27 3 1
687 30 1 11
687 31 1 2
687 32 1 11
687 33 1 3
687 34 1 4
687 35 1 5
687 36 1 6
687 37 3 2
687 40 1 4
687 41 1 2
687 42 2 3
687 44 1 5
687 45 1 4
687 46 1 3
687 47 1 2
687 48 1 3
687 49 2 2
687 51 2 4
687 53 1 3
687 54 3 2
687 57 1 1
687 58 1 3
687 59 1 2
687 60 2 1
687 62 1 2
687 63 1 3
687 64 1 1
687 65 3 2
686 20 1 11
686 21 3 1
686 24 3 4
686 27 1 2
686 28 2 1
686 30 1 11
686 31 1 1
686 32 1 2
686 33 1 1
686 34 2 4
686 36 1 3
686 37 1 6
686 38 1 1
686 39 1 2
686 40 1 1
686 41 1 3
686 42 1 2
686 43 1 5
686 44 2 4
686 46 1 6
686 47 1 2
686 48 1 1
686 49 5 2
686 54 1 3
686 55 1 4
686 56 2 2
686 58 1 1
686 59 1 6
686 60 1 4
686 61 1 1
686 62 1 2
686 63 1 4
686 64 1 3
686 65 1 4
686 66 1 2
685 19 1 11
685 20 1 4
685 21 1 1
685 22 1 11
685 23 3 1
685 26 1 3
685 27 1 2
685 28 2 1
685 30 1 7
685 31 1 1
685 32 1 5
685 33 1 2
685 34 1 1
685 35 1 6
685 36 1 2
685 37 2 3
685 39 1 2
685 40 1 3
685 41 1 2
685 42 1 4
685 43 1 7
685 44 1 8
685 45 1 9
685 46 1 6
685 47 1 4
685 48 1 3
685 49 1 2
685 50 1 6
685 51 1 2
685 52 1 3
685 53 1 2
685 54 1 4
685 55 1 3
685 56 1 4
685 57 2 3
685 59 2 4
685 61 1 2
685 62 3 4
685 65 1 5
685 66 1 1
684 20 1 9
684 21 1 6
684 22 1 1
684 23 1 11
684 24 1 1
684 25 1 11
684 26 4 1
684 30 1 11
684 31 2 1
684 33 1 3
684 34 1 2
684 35 1 5
684 36 1 3
684 37 2 2
684 39 1 5
684 40 1 4
684 41 1 2
684 42 1 4
684 43 1 5
684 44 1 7
684 45 1 9
684 46 1 7
684 47 1 5
684 48 1 4
684 49 1 2
684 50 1 5
684 51 1 6
684 52 2 2
684 54 3 4
684 57 1 1
684 58 1 4
684 59 1 5
684 60 1 4
684 61 2 2
684 63 1 4
684 64 1 3
684 65 1 1
683 19 1 5
683 20 1 6
683 21 1 9
683 22 1 2
683 23 2 1
683 25 1 11
683 26 1 1
683 27 1 6
683 28 1 11
683 29 1 2
683 30 1 6
683 31 1 5
683 32 1 4
683 33 1 5
683 34 1 7
683 35 1 6
683 36 1 5
683 37 1 6
683 38 1 2
683 39 2 3
683 41 1 2
683 42 1 4
683 43 1 3
683 44 3 6
683 47 1 5
683 48 1 3
683 49 1 2
683 50 1 5
683 51 1 4
683 52 1 3
683 53 1 2
683 54 3 4
683 57 1 1
683 58 1 4
683 59 1 6
683 60 1 4
683 61 1 3
683 62 2 5
683 64 1 3
682 19 1 12
682 20 1 4
682 21 1 2
682 22 1 5
682 23 2 1
682 25 1 11
682 26 1 11
682 27 1 1
682 28 1 4
682 29 1 2
682 30 1 3
682 31 1 9
682 32 2 10
682 34 2 5
682 36 1 4
682 37 1 8
682 38 1 7
682 39 2 4
682 41 1 3
682 42 2 4
682 44 1 5
682 45 1 4
682 46 1 2
682 47 3 3
682 50 1 1
682 51 1 4
682 52 3 2
682 55 2 4
682 57 1 3
682 58 3 4
682 61 1 3
682 62 1 4
682 63 1 6
682 64 1 2
681 19 1 13
681 20 1 5
681 21 1 3
681 22 1 1
681 23 1 3
681 24 1 2
681 25 1 11
681 26 1 1
681 27 1 2
681 28 1 3
681 29 1 2
681 30 1 4
681 31 1 3
681 32 2 5
681 34 1 6
681 35 3 9
681 38 1 8
681 39 1 4
681 40 1 5
681 41 2 3
681 43 2 4
681 45 2 3
681 47 1 4
681 48 1 3
681 49 2 2
681 51 1 4
681 52 1 3
681 53 1 2
681 54 1 5
681 55 2 2
681 57 2 3
681 59 1 4
681 60 1 3
681 61 1 4
681 62 1 6
681 63 1 2
680 19 1 4
680 20 1 7
680 21 1 6
680 22 1 5
680 23 1 3
680 24 4 1
680 28 1 3
680 29 1 1
680 30 1 7
680 31 2 5
680 33 1 4
680 34 1 8
680 35 1 10
680 36 3 9
680 39 1 5
680 40 1 7
680 41 1 4
680 42 1 5
680 43 1 2
680 44 1 3
680 45 1 6
680 46 1 5
680 47 2 4
680 49 1 2
680 50 1 5
680 51 1 4
680 52 1 3
680 53 1 2
680 54 1 4
680 55 1 3
680 56 1 2
680 57 1 3
680 58 2 5
680 60 1 7
680 61 1 2
680 62 1 1
679 19 1 6
679 20 1 7
679 21 1 1
679 22 1 11
679 23 1 4
679 24 2 3
679 26 1 2
679 27 3 1
679 30 1 6
679 31 1 3
679 32 1 4
679 33 1 5
679 34 2 9
679 36 2 8
679 38 1 7
679 39 1 5
679 40 1 3
679 41 1 6
679 42 1 3
679 43 2 5
679 45 1 6
679 46 1 2
679 47 1 4
679 48 1 3
679 49 3 2
679 52 2 5
679 54 1 3
679 55 1 2
679 56 1 3
679 57 1 1
679 58 1 3
679 59 1 9
679 60 1 6
679 61 1 3
679 62 1 2
678 18 1 12
678 19 2 6
678 21 1 3
678 22 1 4
678 23 1 7
678 24 1 8
678 25 1 5
678 26 1 3
678 27 2 4
678 29 2 3
678 31 1 5
678 32 2 6
678 34 1 4
678 35 1 7
678 36 3 6
678 39 1 5
678 40 1 3
678 41 1 5
678 42 2 6
678 44 1 8
678 45 1 6
678 46 3 3
678 49 1 1
678 50 1 2
678 51 1 3
678 52 3 5
678 55 1 8
678 56 2 3
678 58 1 6
678 59 1 9
678 60 1 8
678 61 1 11
677 17 1 13
677 18 1 4
677 19 3 5
677 22 1 4
677 23 1 6
677 24 2 5
677 26 1 4
677 27 2 2
677 29 1 3
677 30 1 6
677 31 1 4
677 32 1 3
677 33 1 4
677 34 1 5
677 35 2 9
677 37 1 7
677 38 1 5
677 39 1 6
677 40 5 5
677 45 2 4
677 47 1 6
677 48 1 5
677 49 1 6
677 50 1 2
677 51 1 3
677 52 1 5
677 53 1 3
677 54 1 5
677 55 1 4
677 56 1 9
677 57 1 4
677 58 2 5
676 17 1 12
676 18 1 8
676 19 1 4
676 20 1 6
676 21 1 7
676 22 1 4
676 23 1 7
676 24 2 4
676 26 2 5
676 28 1 2
676 29 1 3
676 30 4 4
676 34 1 5
676 35 1 9
676 36 1 10
676 37 1 7
676 38 1 5
676 39 1 4
676 40 1 5
676 41 1 7
676 42 2 10
676 44 1 5
676 45 2 4
676 47 1 7
676 48 1 4
676 49 1 2
676 50 1 3
676 51 1 5
676 52 3 4
676 55 1 3
676 56 1 5
676 57 2 3
676 59 1 1
675 17 1 12
675 18 1 5
675 19 1 9
675 20 1 8
675 21 1 6
675 22 3 5
675 25 1 7
675 26 2 4
675 28 1 5
675 29 1 4
675 30 1 6
675 31 3 5
675 34 1 4
675 35 3 8
675 38 2 4
675 40 1 7
675 41 1 6
675 42 1 7
675 43 1 5
675 44 1 4
675 45 2 6
675 47 2 10
675 49 1 5
675 50 1 7
675 51 3 4
675 54 1 1
675 55 1 6
675 56 1 4
675 57 1 3
675 58 1 2
674 16 1 13
674 17 1 4
674 18 1 6
674 19 1 7
674 20 1 10
674 21 1 7
674 22 1 6
674 23 2 5
674 25 3 4
674 28 2 5
674 30 3 6
674 33 1 4
674 34 1 7
674 35 1 6
674 36 2 7
674 38 9 5
674 47 1 8
674 48 1 6
674 49 4 4
674 53 1 3
674 54 1 4
674 55 1 6
674 56 1 5
674 57 1 2
673 9 1 13
673 10 1 13
673 12 1 1
673 14 1 13
673 15 1 13
673 16 1 12
673 17 1 12
673 18 1 8
673 19 3 7
673 22 1 8
673 23 1 7
673 24 1 6
673 25 2 5
673 27 2 6
673 29 1 5
673 30 1 4
673 31 3 5
673 34 2 7
673 36 1 8
673 37 1 9
673 38 1 6
673 39 1 5
673 40 3 6
673 43 1 7
673 44 1 4
673 45 1 8
673 46 1 7
673 47 2 6
673 49 1 5
673 50 1 4
673 51 2 5
673 53 1 6
673 54 2 5
673 56 1 1
672 8 1 13
672 9 1 2
672 10 1 7
672 11 1 5
672 12 1 3
672 13 1 1
672 14 1 12
672 15 1 12
672 16 1 3
672 17 4 7
672 21 1 6
672 22 1 8
672 23 1 9
672 24 1 6
672 25 1 7
672 26 4 6
672 30 1 7
672 31 1 6
672 32 2 8
672 34 2 5
672 36 3 6
672 39 1 5
672 40 1 6
672 41 1 5
672 42 1 7
672 43 1 5
672 44 1 4
672 45 1 5
672 46 2 4
672 48 1 6
672 49 1 4
672 50 2 6
672 52 1 4
672 53 2 6
672 55 1 4
671 7 1 13
671 8 1 12
671 9 1 7
671 10 2 9
671 12 2 6
671 14 1 2
671 15 1 11
671 16 1 4
671 17 1 7
671 18 1 4
671 19 1 5
671 20 1 6
671 21 1 8
671 22 3 10
671 25 1 8
671 26 2 6
671 28 1 7
671 29 1 6
671 30 5 9
671 35 1 7
671 36 1 6
671 37 1 8
671 38 2 7
671 40 1 8
671 41 1 4
671 42 1 7
671 43 3 5
671 46 1 4
671 47 1 5
671 48 1 3
671 49 1 8
671 50 1 6
671 51 1 7
671 52 1 6
671 53 1 8
671 54 1 5
670 7 1 5
670 8 1 9
670 9 1 10
670 10 1 9
670 11 1 10
670 12 1 9
670 13 1 7
670 14 1 3
670 15 1 7
670 16 4 5
670 20 1 6
670 21 1 7
670 22 2 8
670 24 2 9
670 26 1 7
670 27 1 6
670 28 2 7
670 30 1 9
670 31 1 10
670 32 4 9
670 36 1 6
670 37 1 8
670 38 1 7
670 39 1 10
670 40 1 8
670 41 2 7
670 43 1 6
670 44 1 7
670 45 1 9
670 46 1 8
670 47 1 6
670 48 1 5
670 49 1 10
670 50 1 4
670 51 1 3
670 52 1 6
670 53 1 5
670 54 1 2
669 7 1 13
669 8 1 9
669 9 1 8
669 10 3 9
669 13 1 6
669 14 1 3
669 15 1 8
669 16 1 12
669 17 1 13
669 18 1 5
669 19 1 3
669 20 1 1
669 21 1 6
669 22 1 7
669 23 1 8
669 24 2 6
669 26 4 7
669 30 1 9
669 31 1 10
669 32 2 9
669 34 3 8
669 37 2 9
669 39 1 10
669 40 1 7
669 41 1 6
669 42 1 9
669 43 1 6
669 44 1 5
669 45 2 6
669 47 1 7
669 48 1 4
669 49 2 2
669 51 1 11
669 52 1 4
669 53 1 12
668 9 1 7
668 10 1 10
668 11 1 9
668 12 1 8
668 13 1 5
668 14 1 8
668 15 1 11
668 16 1 13
668 17 2 1
668 19 1 4
668 20 1 5
668 21 3 6
668 24 2 7
668 26 1 6
668 27 2 7
668 29 1 9
668 30 1 10
668 31 1 9
668 32 2 10
668 34 1 9
668 35 1 8
668 36 1 9
668 37 3 10
668 40 1 8
668 41 1 7
668 42 1 5
668 43 1 6
668 44 1 4
668 45 1 5
668 46 1 2
668 47 1 3
668 48 1 4
668 49 1 13
668 50 1 12
668 51 1 5
668 52 1 2
668 53 1 12
667 10 2 8
667 12 2 7
667 14 1 6
667 15 1 3
667 16 1 2
667 17 1 12
667 18 1 11
667 19 1 3
667 20 1 2
667 21 3 5
667 24 1 7
667 25 2 6
667 27 1 8
667 28 1 6
667 29 1 8
667 30 1 9
667 31 1 7
667 32 1 8
667 33 3 9
667 36 4 10
667 40 1 5
667 41 3 4
667 44 1 3
667 45 1 12
667 46 1 1
666 10 1 13
666 11 1 13
666 12 1 12
666 13 1 12
666 14 1 2
666 15 1 8
666 16 1 6
666 17 1 12
666 18 1 13
666 19 1 12
666 20 1 3
666 21 1 11
666 22 1 12
666 23 1 12
666 24 1 7
666 25 2 6
666 27 1 5
666 28 2 6
666 30 1 8
666 31 1 9
666 32 2 8
666 34 1 9
666 35 1 8
666 36 1 9
666 37 1 7
666 38 1 5
666 39 1 6
666 40 1 12
666 41 1 11
666 42 1 13
666 43 1 13
665 9 1 13
665 10 1 3
665 11 1 13
665 12 1 13
665 13 1 13
665 14 1 12
665 15 1 5
665 16 1 2
665 17 1 12
665 18 1 13
665 19 1 12
665 20 1 3
665 21 1 12
665 22 1 12
665 23 1 4
665 24 1 7
665 25 1 6
665 26 3 5
665 29 1 6
665 30 1 9
665 31 2 7
665 33 1 6
665 34 1 3
665 35 1 8
665 36 1 6
665 37 1 13
665 38 1 13
665 43 1 13
664 14 1 13
664 16 1 12
664 17 1 12
664 18 1 6
664 19 1 5
664 20 1 11
664 21 1 12
664 22 1 12
664 23 1 7
664 24 1 6
664 25 1 3
664 26 1 11
664 27 1 7
664 28 1 10
664 29 2 6
664 31 1 5
664 32 1 2
664 33 1 11
664 34 1 2
664 35 1 7
663 18 1 13
663 19 1 13
663 20 1 13
663 21 1 13
663 22 1 13
663 23 1 13
663 24 1 11
663 25 1 12
663 26 1 12
663 27 1 4
663 28 1 2
663 29 1 13
663 30 1 1
663 31 1 11
661 12 1 13
};
\addlegendimage{only marks, mark=square*, mark size=4pt, mark options={fill=black, draw=black}}
\addlegendentry{600~-~1044~~34~~0.9\%}
\addlegendimage{only marks, mark=square*, mark size=3.9pt, mark options={fill=c9, draw=c9}}
\addlegendentry{500~-~~599~~66~~1.7\%}
\addlegendimage{only marks, mark=square*, mark size=3.9pt, mark options={fill=c8, draw=c8}}
\addlegendentry{450~-~~499~~59~~1.5~}
\addlegendimage{only marks, mark=square*, mark size=3.9pt, mark options={fill=c7, draw=c7}}
\addlegendentry{400~-~~449~103~~2.7\%}
\addlegendimage{only marks, mark=square*, mark size=3.9pt, mark options={fill=c6, draw=c6}}
\addlegendentry{350~-~~399~160~~4.1\%}
\addlegendimage{only marks, mark=square*, mark size=3.9pt, mark options={fill=c5, draw=c5}}
\addlegendentry{300~-~~349~228~~5.9\%}
\addlegendimage{only marks, mark=square*, mark size=3.9pt, mark options={fill=c4, draw=c4}}
\addlegendentry{250~-~~299~462~12.0\%}
\addlegendimage{only marks, mark=square*, mark size=3.9pt, mark options={fill=c3, draw=c3}}
\addlegendentry{200~-~~249~685~17.8\%}
\addlegendimage{only marks, mark=square*, mark size=3.9pt, mark options={fill=c2, draw=c2}}
\addlegendentry{150~-~~199~875~22.7\%}
\addlegendimage{only marks, mark=square*, mark size=3.9pt, mark options={fill=c1, draw=c1}}
\addlegendentry{100~-~~149~685~17.8\%}
\addlegendimage{only marks, mark=*, mark size=2pt, mark options={fill=dotc, draw=black, line width=0.3pt}}
\addlegendentry{~50~-~~~99~264~~6.8\%}
\addlegendimage{only marks, mark=*, mark size=0.75pt, mark options={fill=dotc, draw=black, line width=0.1pt}}
\addlegendentry{~~1~-~~~49~132~~3.4\%}
\addlegendimage{only marks, mark=x, mark size=4pt, mark options={draw=black, line width=0.6pt}}
\addlegendentry{~~~~~~~~~0~106~~2.7\%}
\end{axis}
\begin{axis}[base, xticklabel pos=lower, yticklabel pos=right,
 xticklabel style={anchor=center, yshift=-7pt},
 yticklabel style={anchor=center, xshift=-12pt, fill=white, inner xsep=1.5pt, inner ysep=0.5pt}]
\end{axis}
\end{tikzpicture}
\end{document}
